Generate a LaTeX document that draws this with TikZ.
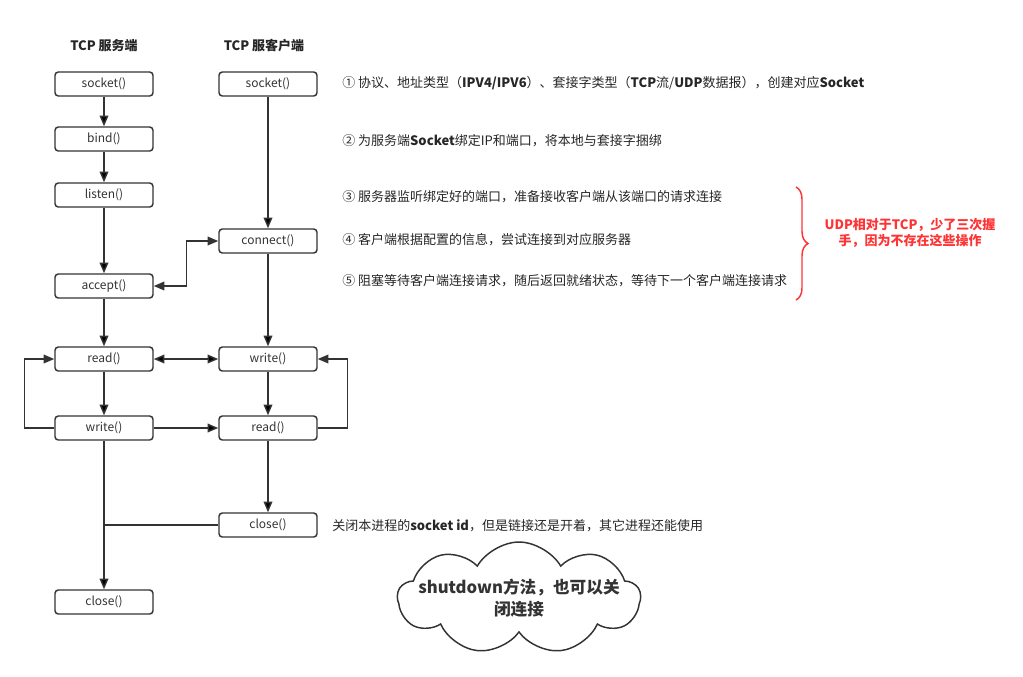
\documentclass[tikz,border=0pt]{standalone}
\usepackage{fontspec}
\setmainfont{Noto Sans CJK SC}
\usepackage{xcolor}
\usepackage{tikz}
\usetikzlibrary{arrows.meta, positioning, shapes.symbols, decorations.pathreplacing}
\definecolor{linegray}{HTML}{333333}
\definecolor{notered}{HTML}{FF3333}

\begin{document}
\begin{tikzpicture}[x=0.75pt, y=-0.75pt, >={Triangle[length=8pt, width=6.5pt]}, font=\fontsize{9.75}{12}\selectfont]
	\tikzstyle{call} = [draw=linegray, rectangle, rounded corners=2.5pt, minimum width=73.5pt, minimum height=18pt, line width=1.1pt, text=linegray, font=\fontsize{9}{11}\selectfont]
	\tikzstyle{note} = [anchor=west, inner sep=0pt, text=black!85]
	\tikzstyle{head} = [font=\fontsize{9.75}{12}\selectfont\bfseries, text=black!85]
	\tikzstyle{conn} = [draw=linegray, line width=1.1pt]
	\useasboundingbox (0,0) rectangle (1023,676);
	
	% column titles
	\node[head]	at (104, 46)	(hs)	{TCP 服务端};
	\node[head]	at (264, 46)	(hc)	{TCP 服客户端};
	
	% server side
	\node[call]	at (104, 84)	(s0)	{socket()};
	\node[call]	at (104, 139)	(s1)	{bind()};
	\node[call]	at (104, 195)	(s2)	{listen()};
	\node[call]	at (104, 286)	(s3)	{accept()};
	\node[call]	at (104, 359)	(s4)	{read()};
	\node[call]	at (104, 428)	(s5)	{write()};
	\node[call]	at (104, 602)	(s6)	{close()};
	
	% client side
	\node[call]	at (268, 84)	(c0)	{socket()};
	\node[call]	at (268, 241)	(c1)	{connect()};
	\node[call]	at (268, 359)	(c2)	{write()};
	\node[call]	at (268, 428)	(c3)	{read()};
	\node[call]	at (268, 525)	(c4)	{close()};
	
	\path[draw][->, conn]
	(s0) edge (s1)
	(s1) edge (s2)
	(s2) edge (s3)
	(s3) edge (s4)
	(s4) edge (s5)
	(s5) edge (s6)
	(c0) edge (c1)
	(c1) edge (c2)
	(c2) edge (c3)
	(c3) edge (c4)
	(s5) edge (c3)
	(s4) edge[<->] (c2);
	
	\draw[<->, conn] (s3.east) -- ++(33, 0) |- (c1.west);
	\draw[->, conn] (s5.west) -- ++(-30, 0) |- (s4.west);
	\draw[->, conn] (c3.east) -- ++(30, 0) |- (c2.east);
	\draw[conn] (c4.west) -- (s6 |- c4.west);
	
	% notes
	\node[note]	at (342, 83)	(n1)	{① 协议、地址类型（\textbf{IPV4/IPV6}）、套接字类型（\textbf{TCP}流/\textbf{UDP}数据报），创建对应\textbf{Socket}};
	\node[note]	at (342, 141)	(n2)	{② 为服务端\textbf{Socket}绑定IP和端口，将本地与套接字捆绑};
	\node[note]	at (342, 197)	(n3)	{③ 服务器监听绑定好的端口，准备接收客户端从该端口的请求连接};
	\node[note]	at (342, 240)	(n4)	{④ 客户端根据配置的信息，尝试连接到对应服务器};
	\node[note]	at (342, 281)	(n5)	{⑤ 阻塞等待客户端连接请求，随后返回就绪状态，等待下一个客户端连接请求};
	\node[note]	at (332, 526)	(n6)	{关闭本进程的\textbf{socket id}，但是链接还是开着，其它进程还能使用};
	
	% brace and red remark
	\coordinate (b0) at (796, 187);
	\coordinate (b1) at (796, 300);
	\draw[notered, line width=1.1pt, decorate, decoration={brace, amplitude=9pt}] (b0) -- (b1);
	\node[text=notered, font=\fontsize{9.75}{12}\selectfont\bfseries, align=center] at (910, 233) (udp) {UDP相对于TCP，少了三次握\\手，因为不存在这些操作};
	
	% cloud
	\node[cloud, draw=linegray, line width=1.1pt, cloud puffs=9, cloud puff arc=120, aspect=2.2, minimum width=182pt, minimum height=84pt, inner sep=0pt] at (519, 598) (cl) {};
	\node[font=\fontsize{12.5}{17}\selectfont\bfseries, text=linegray, align=center] at (cl.center) (clt) {shutdown方法，也可以关\\闭连接};
	
\end{tikzpicture}
\end{document}
